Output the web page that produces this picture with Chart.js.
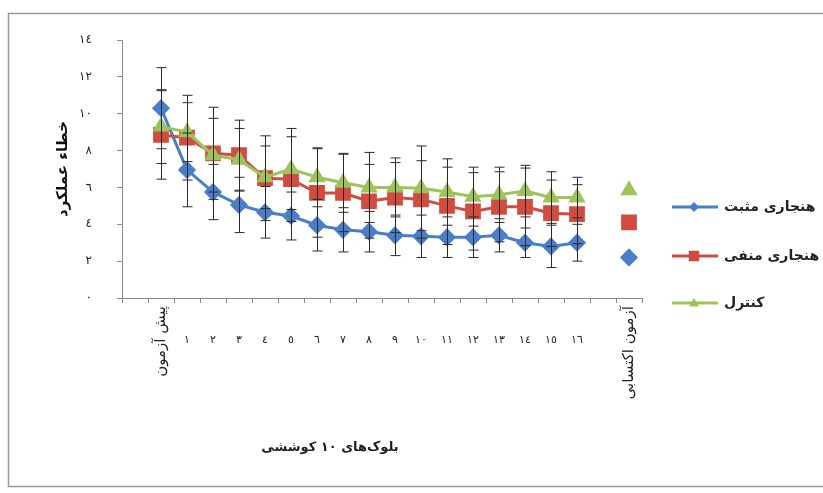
<!DOCTYPE html>
<html lang="fa">
<head>
<meta charset="utf-8">
<title>خطاء عملکرد</title>
<script src="https://cdn.jsdelivr.net/npm/chart.js@4.4.0/dist/chart.umd.min.js"></script>
<style>
  html, body { margin: 0; padding: 0; background: #fff; }
  #wrap { width: 823px; height: 493px; }
</style>
</head>
<body>
<div id="wrap"><canvas id="chart" width="823" height="493"></canvas></div>
<script>
// Categories (blank slots keep the spacing seen in the original)
const categories = ['', 'پیش آزمون', '١', '٢', '٣', '٤', '٥', '٦', '٧', '٨', '٩', '١٠', '١١', '١٢', '١٣', '١٤', '١٥', '١٦', '', 'آزمون اکتسابی'];

// Series values
const positiveNorm = [null, 10.3, 6.95, 5.75, 5.05, 4.65, 4.45, 3.95, 3.7, 3.6, 3.4, 3.35, 3.3, 3.3, 3.4, 3.0, 2.8, 3.0, null, 2.2];
const negativeNorm = [null, 8.85, 8.7, 7.85, 7.75, 6.5, 6.45, 5.7, 5.7, 5.25, 5.45, 5.35, 5.0, 4.7, 4.95, 4.95, 4.6, 4.55, null, 4.1];
const control = [null, 9.3, 9.0, 7.75, 7.5, 6.55, 7.0, 6.55, 6.25, 6.0, 6.0, 5.95, 5.75, 5.5, 5.6, 5.8, 5.45, 5.45, null, 5.85];

// Standard deviations (error bars)
const positiveNormSD = [null, 2.2, 2.0, 1.5, 1.5, 1.4, 1.3, 1.4, 1.2, 1.1, 1.1, 1.15, 1.1, 1.1, 0.9, 0.8, 1.15, 1.0, null, null];
const negativeNormSD = [null, 2.4, 2.3, 2.5, 1.9, 2.3, 2.3, 2.4, 2.1, 2.0, 1.9, 2.1, 2.1, 2.1, 1.9, 2.1, 1.8, 1.6, null, null];
const controlSD = [null, 2.0, 1.6, 2.0, 1.7, 1.7, 2.2, 1.6, 1.6, 1.9, 1.6, 2.3, 1.8, 1.6, 1.5, 1.4, 1.4, 1.1, null, null];

// Tick labels and texts
const yTickLabels = ['٠', '٢', '٤', '٦', '٨', '١٠', '١٢', '١٤'];
const seriesNames = ['هنجاری مثبت', 'هنجاری منفی', 'کنترل'];
const yTitle = 'خطاء عملکرد';
const xTitle = 'بلوک‌های ۱۰ کوششی';

const BLUE = '#4A7EC9';
const RED = '#D24B40';
const GREEN = '#9DC35A';
const FONT = "'DejaVu Sans', sans-serif";

Chart.defaults.font.family = FONT;

function drawMarker(ctx, style, x, y, r, color) {
    ctx.save();
    ctx.fillStyle = color;
    ctx.beginPath();
    if (style === 'rectRot') {
        ctx.moveTo(x, y - r); ctx.lineTo(x + r, y); ctx.lineTo(x, y + r); ctx.lineTo(x - r, y);
    } else if (style === 'rect') {
        ctx.rect(x - r * 0.75, y - r * 0.75, r * 1.5, r * 1.5);
    } else {
        ctx.moveTo(x, y - r); ctx.lineTo(x + r, y + r * 0.7); ctx.lineTo(x - r, y + r * 0.7);
    }
    ctx.closePath();
    ctx.fill();
    ctx.restore();
}

// Frame, error bars, category labels, x title, legend
const extrasPlugin = {
    id: 'extras',
    beforeDraw(chart) {
        const ctx = chart.ctx;
        ctx.save();
        ctx.fillStyle = '#fff';
        ctx.fillRect(0, 0, chart.width, chart.height);
        ctx.strokeStyle = '#9a9a9a';
        ctx.lineWidth = 1.5;
        ctx.strokeRect(8.5, 13.5, 900, 473);
        ctx.restore();
    },
    afterDatasetsDraw(chart) {
        const ctx = chart.ctx;
        const yScale = chart.scales.y;
        ctx.save();
        ctx.strokeStyle = '#2a2a2a';
        ctx.lineWidth = 1;
        chart.data.datasets.forEach((ds, i) => {
            const meta = chart.getDatasetMeta(i);
            ds.data.forEach((v, j) => {
                const sd = ds.errorBars[j];
                if (v === null || sd === null) return;
                const x = Math.round(meta.data[j].x) + 0.5;
                const yTop = yScale.getPixelForValue(v + sd);
                const yBot = yScale.getPixelForValue(v - sd);
                ctx.beginPath();
                ctx.moveTo(x, yTop); ctx.lineTo(x, yBot);
                ctx.moveTo(x - 5, yTop); ctx.lineTo(x + 5, yTop);
                ctx.moveTo(x - 5, yBot); ctx.lineTo(x + 5, yBot);
                ctx.stroke();
            });
        });
        ctx.restore();
    },
    afterDraw(chart) {
        const ctx = chart.ctx;
        const xScale = chart.scales.x;
        ctx.save();
        ctx.fillStyle = '#222';

        // category labels
        categories.forEach((label, i) => {
            if (!label) return;
            const x = xScale.getPixelForValue(i);
            if (label.length > 2) {
                ctx.save();
                ctx.translate(x, 306);
                ctx.rotate(-Math.PI / 2);
                ctx.font = '15px ' + FONT;
                ctx.textAlign = 'right';
                ctx.textBaseline = 'middle';
                ctx.fillText(label, 0, 0);
                ctx.restore();
            } else {
                ctx.font = '11px ' + FONT;
                ctx.textAlign = 'center';
                ctx.textBaseline = 'middle';
                ctx.fillText(label, x, 340);
            }
        });

        // x title
        ctx.font = 'bold 13px ' + FONT;
        ctx.textAlign = 'center';
        ctx.textBaseline = 'middle';
        ctx.fillText(xTitle, 330, 448);

        // legend
        const legend = [
            { color: BLUE, style: 'rectRot', r: 5, y: 207 },
            { color: RED, style: 'rect', r: 7, y: 256 },
            { color: GREEN, style: 'triangle', r: 5, y: 303 }
        ];
        legend.forEach((item, i) => {
            ctx.strokeStyle = item.color;
            ctx.lineWidth = 3;
            ctx.beginPath();
            ctx.moveTo(672, item.y); ctx.lineTo(718, item.y);
            ctx.stroke();
            drawMarker(ctx, item.style, 694, item.y, item.r, item.color);
            ctx.fillStyle = '#222';
            ctx.font = 'bold 14px ' + FONT;
            ctx.textAlign = 'left';
            ctx.textBaseline = 'middle';
            ctx.fillText(seriesNames[i], 724, item.y);
        });
        ctx.restore();
    }
};

const ctx = document.getElementById('chart');
new Chart(ctx, {
    type: 'line',
    data: {
        labels: categories,
        datasets: [
            { label: seriesNames[0], data: positiveNorm, errorBars: positiveNormSD, borderColor: BLUE, backgroundColor: BLUE, borderWidth: 3, pointStyle: 'rectRot', pointRadius: 7, pointBorderColor: BLUE, pointBackgroundColor: BLUE, tension: 0, order: 2 },
            { label: seriesNames[1], data: negativeNorm, errorBars: negativeNormSD, borderColor: RED, backgroundColor: RED, borderWidth: 3, pointStyle: 'rect', pointRadius: 9, pointBorderColor: RED, pointBackgroundColor: RED, tension: 0, order: 1 },
            { label: seriesNames[2], data: control, errorBars: controlSD, borderColor: GREEN, backgroundColor: GREEN, borderWidth: 3, pointStyle: 'triangle', pointRadius: 7, pointBorderColor: GREEN, pointBackgroundColor: GREEN, tension: 0, order: 0 }
        ]
    },
    options: {
        responsive: false,
        animation: false,
        spanGaps: false,
        layout: { padding: { left: 50, top: 40, right: 181, bottom: 8 } },
        plugins: {
            legend: { display: false },
            tooltip: { enabled: false }
        },
        scales: {
            x: {
                offset: true,
                grid: { offset: true, drawOnChartArea: false, drawTicks: true, tickLength: 5, color: '#8a8a8a' },
                border: { color: '#8a8a8a', width: 1 },
                ticks: { display: false },
                afterFit: function(scale) { scale.height = 187; }
            },
            y: {
                min: 0,
                max: 14,
                grid: { drawOnChartArea: false, drawTicks: true, tickLength: 5, color: '#8a8a8a' },
                border: { color: '#8a8a8a', width: 1 },
                ticks: {
                    stepSize: 2,
                    padding: 25,
                    color: '#222',
                    font: { size: 12 },
                    callback: function(value) { return yTickLabels[value / 2]; }
                },
                title: { display: true, text: yTitle, color: '#111', font: { size: 15, weight: 'bold' }, padding: { top: 4, bottom: 4 } },
                afterFit: function(scale) { scale.width = 72; }
            }
        }
    },
    plugins: [extrasPlugin]
});
</script>
</body>
</html>
